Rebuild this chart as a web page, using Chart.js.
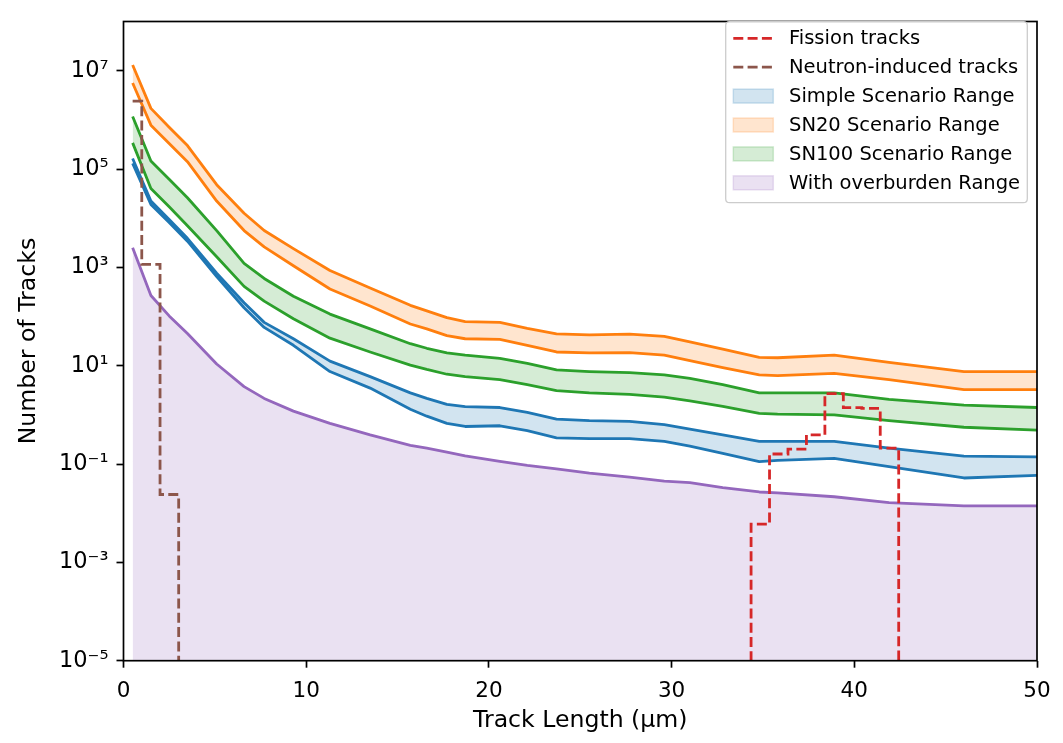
<!DOCTYPE html>
<html><head><meta charset="utf-8">
<script src="https://cdn.jsdelivr.net/npm/chart.js@4.4.1/dist/chart.umd.min.js"></script>
<style>html,body{margin:0;padding:0;background:#fff;}#wrap{width:1063px;height:743px;position:relative;}</style>
</head><body><div id="wrap"><canvas id="c" width="1063" height="743"></canvas></div>
<script>
// ---- data ----
const trackLength = [0.5, 1.5, 2.5, 3.5, 5.1, 6.6, 7.7, 9.3, 11.3, 13.5, 15.7, 16.6, 17.7, 18.7, 20.6, 22.1, 23.7, 25.5, 27.7, 29.6, 31.0, 32.8, 34.8, 35.8, 38.9, 41.9, 46.0, 50.0];
const sn20Upper = [1.3e7, 1.71e6, 7.1e5, 3.0e5, 4.8e4, 1.26e4, 5.6e3, 2.4e3, 860, 380, 169, 130, 95, 79, 76, 57.5, 44.5, 42.5, 43.7, 39.3, 30.5, 21.6, 14.7, 14.5, 16.4, 11.7, 7.6, 7.6];
const sn20Lower = [5.6e6, 7.8e5, 3.3e5, 1.41e5, 2.23e4, 5.6e3, 2.6e3, 1.08e3, 363, 164, 70.5, 56, 41, 35.3, 34.2, 26, 19, 18.2, 18.5, 16.4, 12.7, 9.1, 6.5, 6.3, 7.0, 5.2, 3.27, 3.27];
const sn100Upper = [1.17e6, 1.45e5, 6.2e4, 2.6e4, 5.6e3, 1.2e3, 594, 259, 112, 56, 28, 22.6, 18.2, 16.4, 14.1, 11.2, 8.2, 7.6, 7.2, 6.5, 5.5, 4.1, 2.8, 2.8, 2.8, 2.06, 1.58, 1.41];
const sn100Lower = [3.4e5, 4.0e4, 1.7e4, 7.0e3, 1.64e3, 411, 206, 90, 36.3, 19, 10.3, 8.4, 6.7, 6.0, 5.2, 4.1, 3.1, 2.8, 2.6, 2.29, 1.92, 1.49, 1.07, 1.03, 1.0, 0.76, 0.56, 0.49];
const simpleUpper = [1.64e5, 2.23e4, 9.4e3, 3.9e3, 760, 190, 76, 35.3, 12.4, 6.0, 2.8, 2.16, 1.64, 1.47, 1.41, 1.12, 0.82, 0.76, 0.74, 0.63, 0.51, 0.39, 0.29, 0.29, 0.29, 0.21, 0.145, 0.14];
const simpleLower = [1.3e5, 1.9e4, 8.2e3, 3.4e3, 650, 151, 60, 26, 7.6, 3.5, 1.3, 0.94, 0.67, 0.58, 0.60, 0.48, 0.34, 0.33, 0.33, 0.29, 0.23, 0.164, 0.112, 0.119, 0.13, 0.089, 0.052, 0.059];
const overburdenUpper = [2.5e3, 268, 103, 45, 10.8, 3.75, 2.16, 1.19, 0.67, 0.39, 0.24, 0.21, 0.175, 0.146, 0.113, 0.094, 0.080, 0.065, 0.054, 0.045, 0.042, 0.033, 0.027, 0.026, 0.0216, 0.0164, 0.0141, 0.0141];
const fissionEdges = [33.34, 34.35, 35.36, 36.37, 37.38, 38.39, 39.40, 40.41, 41.42, 42.43];
const fissionCounts = [0, 0.006, 0.16, 0.2, 0.39, 2.7, 1.4, 1.35, 0.21, 0];
const neutronEdges = [0.5, 1.0, 2.0, 3.02];
const neutronCounts = [2.4e6, 1.15e3, 0.024, 0];
const xTicks = [0, 10, 20, 30, 40, 50];
const yTickExponents = [-5, -3, -1, 1, 3, 5, 7];

// ---- styling ----
const FONT = "'DejaVu Sans', sans-serif";
const COL = {blue:'#1f77b4', orange:'#ff7f0e', green:'#2ca02c', red:'#d62728', purple:'#9467bd', brown:'#8c564b'};
const FILL = {blue:'rgba(31,119,180,0.2)', orange:'rgba(255,127,14,0.2)', green:'rgba(44,160,44,0.2)', purple:'rgba(148,103,189,0.2)'};
const LW = 2.8;
const DASH = [10, 4.3];
const ZERO_FLOOR = 1e-9; // zero counts lie below the log axis

const pts = (xs, ys) => xs.map((x, i) => ({x: x, y: ys[i] > 0 ? ys[i] : ZERO_FLOOR}));
const SUP = {'-':'\u207B','0':'\u2070','1':'\u00B9','2':'\u00B2','3':'\u00B3','4':'\u2074','5':'\u2075','6':'\u2076','7':'\u2077','8':'\u2078','9':'\u2079'};
const sup = n => String(n).split('').map(c => SUP[c]).join('');

const base = {pointRadius: 0, borderWidth: LW, tension: 0, borderJoinStyle: 'round'};
const datasets = [
  Object.assign({}, base, {label:'Fission tracks', legendKind:'line', data: pts(fissionEdges, fissionCounts), borderColor: COL.red, borderDash: DASH, stepped: true, fill: false, borderJoinStyle: 'miter'}),
  Object.assign({}, base, {label:'Neutron-induced tracks', legendKind:'line', data: pts(neutronEdges, neutronCounts), borderColor: COL.brown, borderDash: DASH, stepped: true, fill: false, borderJoinStyle: 'miter'}),
  Object.assign({}, base, {label:'Simple Scenario Range', legendKind:'patch', legendFill: FILL.blue, data: pts(trackLength, simpleUpper), borderColor: COL.blue, backgroundColor: FILL.blue, fill: '+1'}),
  Object.assign({}, base, {label:'Simple lower', data: pts(trackLength, simpleLower), borderColor: COL.blue, fill: false}),
  Object.assign({}, base, {label:'SN20 Scenario Range', legendKind:'patch', legendFill: FILL.orange, data: pts(trackLength, sn20Upper), borderColor: COL.orange, backgroundColor: FILL.orange, fill: '+1'}),
  Object.assign({}, base, {label:'SN20 lower', data: pts(trackLength, sn20Lower), borderColor: COL.orange, fill: false}),
  Object.assign({}, base, {label:'SN100 Scenario Range', legendKind:'patch', legendFill: FILL.green, data: pts(trackLength, sn100Upper), borderColor: COL.green, backgroundColor: FILL.green, fill: '+1'}),
  Object.assign({}, base, {label:'SN100 lower', data: pts(trackLength, sn100Lower), borderColor: COL.green, fill: false}),
  Object.assign({}, base, {label:'With overburden Range', legendKind:'patch', legendFill: FILL.purple, data: pts(trackLength, overburdenUpper), borderColor: COL.purple, backgroundColor: FILL.purple, fill: 'start'})
];

const framePlugin = {
  id: 'frame',
  afterDraw(chart) {
    const {ctx, chartArea: a} = chart;
    ctx.save();
    ctx.strokeStyle = '#000';
    ctx.lineWidth = 1.7;
    ctx.strokeRect(a.left, a.top, a.right - a.left, a.bottom - a.top);
    ctx.restore();
  }
};

const legendPlugin = {
  id: 'mplLegend',
  afterDraw(chart) {
    const ctx = chart.ctx;
    const items = chart.data.datasets.filter(d => d.legendKind);
    const box = {x: 725.7, y: 21.7, w: 301.6, h: 181};
    const rowY0 = 38.3, rowStep = 28.9;
    ctx.save();
    const r = 4;
    ctx.beginPath();
    ctx.moveTo(box.x + r, box.y);
    ctx.lineTo(box.x + box.w - r, box.y);
    ctx.quadraticCurveTo(box.x + box.w, box.y, box.x + box.w, box.y + r);
    ctx.lineTo(box.x + box.w, box.y + box.h - r);
    ctx.quadraticCurveTo(box.x + box.w, box.y + box.h, box.x + box.w - r, box.y + box.h);
    ctx.lineTo(box.x + r, box.y + box.h);
    ctx.quadraticCurveTo(box.x, box.y + box.h, box.x, box.y + box.h - r);
    ctx.lineTo(box.x, box.y + r);
    ctx.quadraticCurveTo(box.x, box.y, box.x + r, box.y);
    ctx.closePath();
    ctx.fillStyle = 'rgba(255,255,255,0.8)';
    ctx.fill();
    ctx.strokeStyle = '#cccccc';
    ctx.lineWidth = 1.3;
    ctx.stroke();
    items.forEach((d, i) => {
      const cy = rowY0 + i * rowStep;
      const hx0 = 733.3, hx1 = 773.3;
      if (d.legendKind === 'line') {
        ctx.beginPath();
        ctx.setLineDash(DASH);
        ctx.strokeStyle = d.borderColor;
        ctx.lineWidth = LW;
        ctx.moveTo(hx0, cy);
        ctx.lineTo(hx1, cy);
        ctx.stroke();
        ctx.setLineDash([]);
      } else {
        ctx.fillStyle = d.legendFill;
        ctx.fillRect(hx0, cy - 7, hx1 - hx0, 14);
        ctx.strokeStyle = d.legendFill;
        ctx.lineWidth = 1.5;
        ctx.strokeRect(hx0, cy - 7, hx1 - hx0, 14);
      }
      ctx.fillStyle = '#000';
      ctx.font = '19.5px ' + FONT;
      ctx.textBaseline = 'middle';
      ctx.textAlign = 'left';
      ctx.fillText(d.label, 789, cy + 1);
    });
    ctx.restore();
  }
};

new Chart(document.getElementById('c'), {
  type: 'line',
  data: {datasets: datasets},
  options: {
    responsive: false,
    animation: false,
    devicePixelRatio: 1,
    layout: {padding: {top: 12, right: 26, left: 0, bottom: 0}},
    plugins: {legend: {display: false}, tooltip: {enabled: false}},
    scales: {
      x: {
        type: 'linear', min: 0, max: 50,
        afterBuildTicks: s => { s.ticks = xTicks.map(v => ({value: v})); },
        afterFit: s => { s.height = 82.3; },
        ticks: {color: '#000', font: {family: FONT, size: 21.5}, padding: 11, maxRotation: 0, autoSkip: false},
        grid: {drawOnChartArea: false, drawTicks: true, tickLength: 7, tickWidth: 1.7, tickColor: '#000'},
        border: {display: false},
        title: {display: true, text: 'Track Length (\u03BCm)', color: '#000', font: {family: FONT, size: 23.6}, padding: 8}
      },
      y: {
        type: 'logarithmic', min: 1e-5, max: 1e8,
        afterBuildTicks: s => { s.ticks = yTickExponents.map(e => ({value: Math.pow(10, e)})); },
        afterFit: s => { s.width = 123.5; },
        ticks: {color: '#000', font: {family: FONT, size: 22.5}, padding: 8, autoSkip: false,
          callback: v => '10' + sup(Math.round(Math.log10(v)))},
        grid: {drawOnChartArea: false, drawTicks: true, tickLength: 7, tickWidth: 1.7, tickColor: '#000'},
        border: {display: false},
        title: {display: true, text: 'Number of Tracks', color: '#000', font: {family: FONT, size: 23.6}, padding: 15}
      }
    }
  },
  plugins: [framePlugin, legendPlugin]
});
</script>
</body></html>
